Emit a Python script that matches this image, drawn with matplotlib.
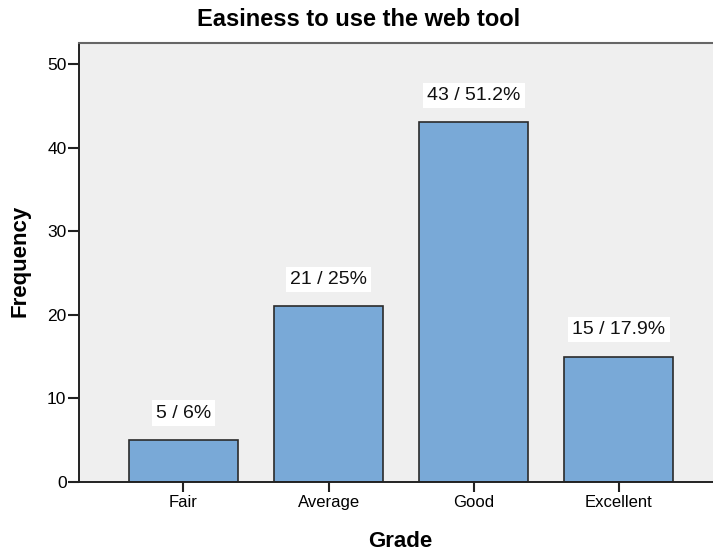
import matplotlib.pyplot as plt

grades = ['Fair', 'Average', 'Good', 'Excellent']
counts = [5, 21, 43, 15]
percents = ['6%', '25%', '51.2%', '17.9%']
y_ticks = [0, 10, 20, 30, 40, 50]

plt.rcParams['font.family'] = ['Liberation Sans', 'DejaVu Sans']

W, H = 713, 551
fig = plt.figure(figsize=(W / 100, H / 100), dpi=100)
ax = fig.add_axes([79 / W, 1 - 482 / H, 634 / W, 439 / H])
ax.set_facecolor('#efefef')

x = list(range(len(grades)))
ax.bar(x, counts, width=0.75, color='#79a9d7', edgecolor='#2b2b2b', linewidth=1.2, zorder=2)

# count / percent labels sitting above each bar
for xi, c, p in zip(x, counts, percents):
    ax.annotate(f'{c} / {p}', (xi, c), xytext=(0, 19.5), textcoords='offset points',
                ha='center', va='center', fontsize=14, color='#111111',
                bbox=dict(boxstyle='square,pad=0.22', fc='white', ec='none'), zorder=3)

ax.set_xlim(-0.72, 3.65)
ax.set_ylim(0, 52.5)
ax.set_xticks(x)
ax.set_xticklabels(grades, fontsize=12)
ax.set_yticks(y_ticks)
ax.tick_params(axis='y', labelsize=12.5, length=8, width=1.5, pad=1, color='#222222')
ax.tick_params(axis='x', length=7, width=1.5, pad=2.5, color='#222222')

for side in ['left', 'bottom']:
    ax.spines[side].set_linewidth(1.4)
    ax.spines[side].set_color('#222222')
ax.spines['right'].set_visible(False)
ax.spines['top'].set_color('#666666')
ax.spines['top'].set_linewidth(1.5)

fig.text(20 / W, 1 - 261 / H, 'Frequency', rotation=90, ha='center', va='center',
         fontsize=16, fontweight='bold')
fig.text(400 / W, 1 - 547 / H, 'Grade', ha='center', va='baseline',
         fontsize=16, fontweight='bold')
fig.text(359 / W, 1 - 19 / H, 'Easiness to use the web tool', ha='center', va='center',
         fontsize=17, fontweight='bold')

fig.savefig('out.png', dpi=100)
